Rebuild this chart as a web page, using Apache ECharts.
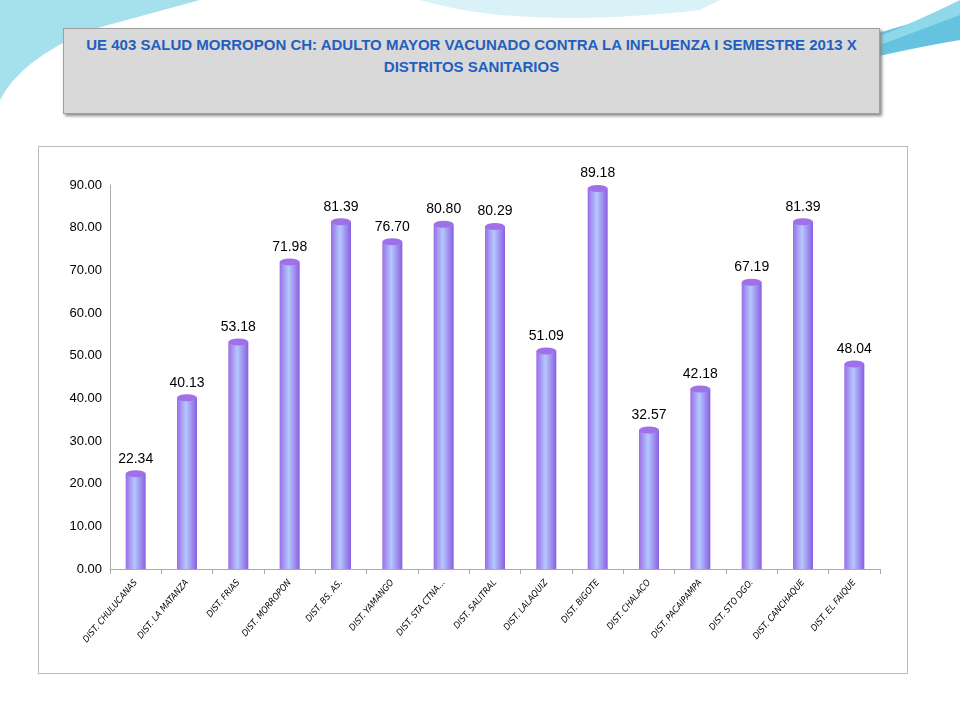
<!DOCTYPE html>
<html lang="es">
<head>
<meta charset="UTF-8">
<title>Adulto mayor vacunado</title>
<script src="https://cdn.jsdelivr.net/npm/echarts@6/dist/echarts.min.js"></script>
<style>
body{margin:0;width:960px;height:720px;background:#fff;position:relative;overflow:hidden;font-family:"Liberation Sans",Arial,sans-serif}
#deco{position:absolute;left:0;top:0;width:960px;height:120px}
#title{position:absolute;left:63px;top:28px;width:817px;height:86px;background:#d9d9d9;border:1px solid #a0a0a0;box-shadow:2px 2px 3px #888;
 color:#1f5fbf;font-weight:bold;font-size:15px;text-align:center;line-height:22px;padding-top:5px;box-sizing:border-box;font-family:"Liberation Sans Narrow","Liberation Sans",Arial,sans-serif}
#box{position:absolute;left:38px;top:146px;width:870px;height:528px;border:1px solid #bbb;box-sizing:border-box}
#chart{position:absolute;left:0;top:0;width:960px;height:720px}
</style>
</head>
<body>
<svg id="deco" viewBox="0 0 960 120">
 <path d="M0,0 L0,100 Q20,60 90,30 L200,0 Z" fill="#7fd4e6" opacity="0.7"/>
 <path d="M420,0 Q520,30 700,10 L720,0 Z" fill="#bfe9f2" opacity="0.6"/>
 <path d="M800,60 Q880,30 960,10 L960,40 Q900,50 820,70 Z" fill="#3fb4d8" opacity="0.8"/>
 <path d="M870,40 Q920,20 960,0 L960,15 Q920,30 880,45 Z" fill="#8fd8ea"/>
</svg>
<div id="title">UE 403 SALUD MORROPON CH: ADULTO MAYOR VACUNADO CONTRA LA INFLUENZA I SEMESTRE 2013 X<br>DISTRITOS SANITARIOS</div>
<div id="box"></div>
<div id="chart"></div>
<script>
var districts = ['DIST. CHULUCANAS','DIST. LA MATANZA','DIST. FRIAS','DIST. MORROPON','DIST. BS. AS.','DIST. YAMANGO','DIST. STA CTNA...','DIST. SALITRAL','DIST. LALAQUIZ','DIST. BIGOTE','DIST. CHALACO','DIST. PACAIPAMPA','DIST. STO DGO.','DIST. CANCHAQUE','DIST. EL FAIQUE'];
var values = [22.34,40.13,53.18,71.98,81.39,76.70,80.80,80.29,51.09,89.18,32.57,42.18,67.19,81.39,48.04];

var chart = echarts.init(document.getElementById('chart'));
var grad = new echarts.graphic.LinearGradient(0,0,1,0,[
  {offset:0,color:'#9a6ee6'},{offset:0.45,color:'#b4c8ff'},{offset:1,color:'#8a5ee0'}]);
chart.setOption({
  animation:false,
  grid:{left:110,right:80,top:185,bottom:151},
  xAxis:{type:'category',data:districts,
    axisLine:{lineStyle:{color:'#aaa'}},axisTick:{show:true,lineStyle:{color:'#aaa'}},
    axisLabel:{rotate:50,interval:0,margin:12,fontSize:9,fontStyle:'italic',color:'#000',fontFamily:'DejaVu Sans Condensed'}},
  yAxis:{type:'value',min:0,max:90,interval:10,
    axisLine:{show:true,lineStyle:{color:'#aaa'}},splitLine:{show:false},
    axisLabel:{formatter:function(v){return v.toFixed(2);},fontSize:13,color:'#000'}},
  series:[
    {type:'bar',data:values,barWidth:20,itemStyle:{color:grad},
     label:{show:true,position:'top',distance:8,fontSize:14,color:'#000',formatter:function(p){return p.value.toFixed(2);}}},
    {type:'pictorialBar',data:values,symbol:'circle',symbolSize:[20,7],symbolPosition:'end',symbolOffset:[0,'-50%'],
     itemStyle:{color:'#a070e8'},z:3}
  ]
});
</script>
</body>
</html>
